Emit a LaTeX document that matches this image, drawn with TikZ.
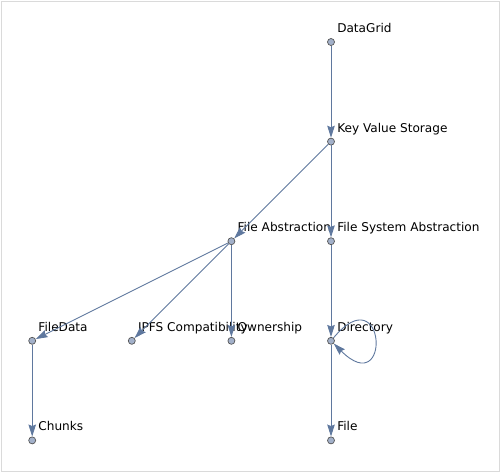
\documentclass[tikz,border=0pt]{standalone}
\usepackage{fontspec}
\setmainfont{DejaVu Sans}
\usepackage{tikz}
\usetikzlibrary{positioning}
\usetikzlibrary{arrows.meta}
\usepackage{xcolor}
\definecolor{edgeblue}{RGB}{95,120,158}
\definecolor{vtxfill}{RGB}{163,177,202}
\definecolor{vtxline}{RGB}{85,85,85}
\definecolor{framegray}{RGB}{218,218,218}

\begin{document}
\begin{tikzpicture}[x=1pt, y=-1pt, node distance=99.6pt,
    vtx/.style={draw=vtxline, fill=vtxfill, circle, minimum size=7pt, inner sep=0pt, line width=0.7pt},
    lbl/.style={font=\fontsize{12.1}{14}\selectfont, inner sep=0pt, anchor=base west, xshift=2.2pt, yshift=9.5pt, label distance=0pt},
    >={Stealth[length=12pt, width=7.5pt, inset=1.5pt]},
    every edge/.style={draw=edgeblue, line width=0.9pt, ->}]
    \useasboundingbox (0,0) rectangle (500,472);
    \draw[framegray, line width=1pt] (1,1) rectangle (499,471);
    \node[vtx, label={[lbl]right:DataGrid}] (datagrid) at (331,42) {};
    \node[vtx, below of=datagrid, label={[lbl]right:Key Value Storage}] (kvs) {};
    \node[vtx, below of=kvs, label={[lbl]right:File System Abstraction}] (fsa) {};
    \node[vtx, left of=fsa, label={[lbl]right:File Abstraction}] (fa) {};
    \node[vtx, below of=fa, label={[lbl]right:Ownership}] (own) {};
    \node[vtx, left of=own, label={[lbl]right:IPFS Compatibility}] (ipfs) {};
    \node[vtx, left of=ipfs, label={[lbl]right:FileData}] (filedata) {};
    \node[vtx, below of=filedata, label={[lbl]right:Chunks}] (chunks) {};
    \node[vtx, below of=fsa, label={[lbl]right:Directory}] (dir) {};
    \node[vtx, below of=dir, label={[lbl]right:File}] (file) {};
    \draw (datagrid) edge (kvs);
    \draw (kvs) edge (fa);
    \draw (kvs) edge (fsa);
    \draw (fa) edge (filedata);
    \draw (fa) edge (ipfs);
    \draw (fa) edge (own);
    \draw (fsa) edge (dir);
    \draw (dir) edge[out=50, in=-45, min distance=82pt, looseness=8] (dir);
    \draw (dir) edge (file);
    \draw (filedata) edge (chunks);
\end{tikzpicture}
\end{document}
